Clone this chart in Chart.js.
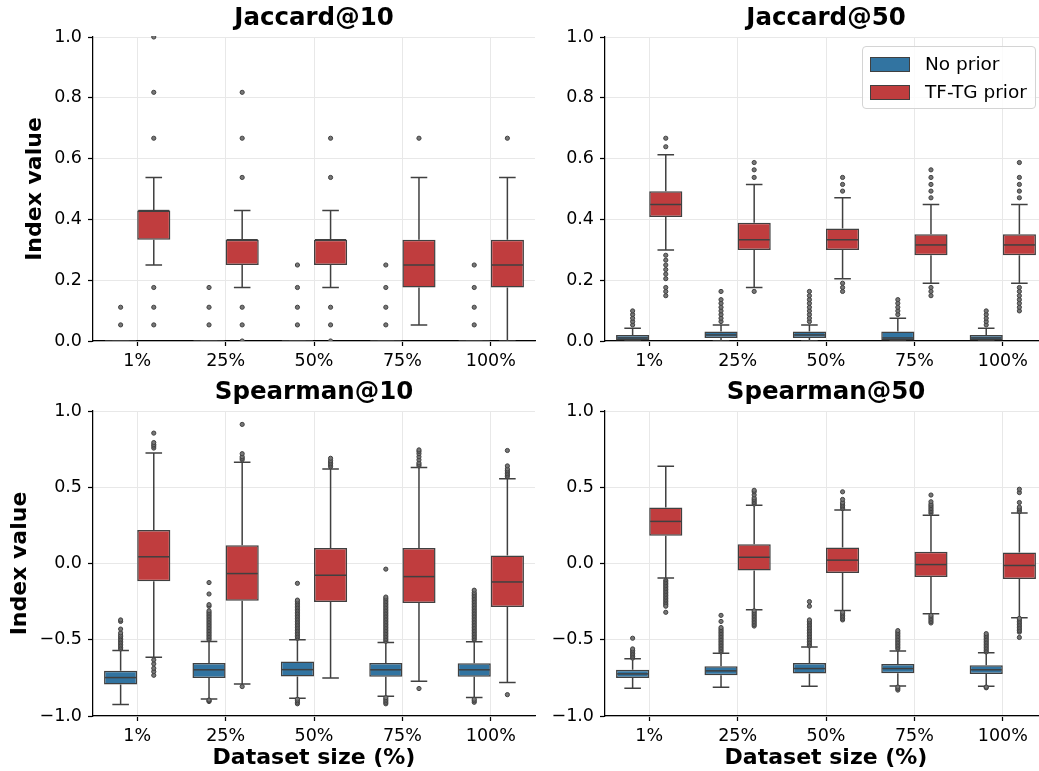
<!DOCTYPE html>
<html lang="en">

<head>
    <meta charset="UTF-8">
    <title>Jaccard / Spearman index by dataset size</title>
    <script src="https://cdn.jsdelivr.net/npm/chart.js"></script>
    <style>
        html, body {
            margin: 0;
            padding: 0;
            width: 1039px;
            height: 771px;
            overflow: hidden;
            background: #fff;
            font-family: "DejaVu Sans", sans-serif;
        }
        canvas {
            position: absolute;
        }
        #legend {
            position: absolute;
            left: 862px;
            top: 46px;
            width: 172px;
            height: 61px;
            border: 1px solid #d4d4d4;
            border-radius: 4px;
            background: rgba(255, 255, 255, 0.8);
            z-index: 5;
        }
        #legend .item {
            position: absolute;
            left: 7px;
            height: 16px;
            font-size: 18.5px;
            line-height: 16px;
            color: #000;
            white-space: nowrap;
        }
        #legend .patch {
            display: inline-block;
            width: 38px;
            height: 13px;
            border: 1px solid #404040;
            vertical-align: top;
            margin-right: 15px;
            margin-top: 1px;
        }
    </style>
</head>

<body>
    <canvas id="chartJ10" width="540" height="380" style="left:0;top:0"></canvas>
    <canvas id="chartJ50" width="530" height="380" style="left:520px;top:0"></canvas>
    <canvas id="chartS10" width="540" height="397" style="left:0;top:374px"></canvas>
    <canvas id="chartS50" width="530" height="397" style="left:520px;top:374px"></canvas>
    <div id="legend">
        <div class="item" style="top:9px"><span class="patch" style="background:#3274a1"></span>No prior</div>
        <div class="item" style="top:37px"><span class="patch" style="background:#c03d3e"></span>TF-TG prior</div>
    </div>
    <script>
        // x categories
        var categories = ['1%', '25%', '50%', '75%', '100%'];

        // box stats per category: [whisker low, q1, median, q3, whisker high]
        // Jaccard@10
        var j10NoPrior = [[0, 0, 0, 0, 0], [0, 0, 0, 0, 0], [0, 0, 0, 0, 0], [0, 0, 0, 0, 0], [0, 0, 0, 0, 0]];
        var j10NoPriorOut = [
            [0.053, 0.111],
            [0.053, 0.111, 0.176],
            [0.053, 0.111, 0.176, 0.25],
            [0.053, 0.111, 0.176, 0.25],
            [0.053, 0.111, 0.176, 0.25]
        ];
        var j10Prior = [[0.25, 0.333, 0.429, 0.429, 0.538], [0.176, 0.25, 0.333, 0.333, 0.429], [0.176, 0.25, 0.333, 0.333, 0.429], [0.053, 0.176, 0.25, 0.333, 0.538], [0, 0.176, 0.25, 0.333, 0.538]];
        var j10PriorOut = [
            [0.053, 0.111, 0.176, 0.667, 0.818, 1.0],
            [0, 0.053, 0.111, 0.538, 0.667, 0.818],
            [0, 0.053, 0.111, 0.538, 0.667],
            [0.667],
            [0.667]
        ];

        // Jaccard@50
        var j50NoPrior = [[0, 0, 0.01, 0.02, 0.042], [0, 0.01, 0.02, 0.031, 0.053], [0, 0.01, 0.02, 0.031, 0.053], [0, 0, 0.01, 0.031, 0.075], [0, 0, 0.01, 0.02, 0.042]];
        var j50NoPriorOut = [
            [0.053, 0.064, 0.075, 0.087, 0.099],
            [0.064, 0.075, 0.087, 0.099, 0.111, 0.124, 0.136, 0.163],
            [0.064, 0.075, 0.087, 0.099, 0.111, 0.124, 0.136, 0.149, 0.163],
            [0.087, 0.099, 0.111, 0.124, 0.136],
            [0.053, 0.064, 0.075, 0.087, 0.099]
        ];
        var j50Prior = [[0.299, 0.408, 0.449, 0.493, 0.613], [0.176, 0.299, 0.333, 0.389, 0.515], [0.205, 0.299, 0.333, 0.37, 0.471], [0.19, 0.282, 0.316, 0.351, 0.449], [0.19, 0.282, 0.316, 0.351, 0.449]];
        var j50PriorOut = [
            [0.149, 0.163, 0.176, 0.205, 0.22, 0.235, 0.25, 0.266, 0.282, 0.639, 0.667],
            [0.163, 0.538, 0.563, 0.587],
            [0.163, 0.176, 0.19, 0.493, 0.515, 0.538],
            [0.149, 0.163, 0.176, 0.471, 0.493, 0.515, 0.538, 0.563],
            [0.099, 0.111, 0.124, 0.136, 0.149, 0.163, 0.176, 0.471, 0.493, 0.515, 0.538, 0.587]
        ];

        // Spearman@10
        var s10NoPrior = [[-0.924, -0.794, -0.748, -0.704, -0.57], [-0.888, -0.75, -0.697, -0.652, -0.511], [-0.884, -0.741, -0.696, -0.643, -0.5], [-0.871, -0.743, -0.697, -0.652, -0.518], [-0.879, -0.743, -0.697, -0.654, -0.513]];
        var s10NoPriorOut = [
            [-0.56, -0.55, -0.54, -0.53, -0.52, -0.51, -0.5, -0.49, -0.48, -0.47, -0.455, -0.43, -0.38, -0.37],
            [-0.905, -0.9, -0.895, -0.5, -0.49, -0.48, -0.47, -0.46, -0.45, -0.44, -0.43, -0.42, -0.41, -0.4, -0.39, -0.38, -0.37, -0.36, -0.35, -0.34, -0.33, -0.32, -0.31, -0.28, -0.27, -0.2, -0.125],
            [-0.92, -0.91, -0.9, -0.89, -0.49, -0.48, -0.47, -0.46, -0.45, -0.44, -0.43, -0.42, -0.41, -0.4, -0.39, -0.38, -0.37, -0.36, -0.35, -0.34, -0.33, -0.32, -0.31, -0.3, -0.29, -0.28, -0.27, -0.26, -0.25, -0.24, -0.13],
            [-0.92, -0.91, -0.9, -0.89, -0.88, -0.51, -0.5, -0.49, -0.48, -0.47, -0.46, -0.45, -0.44, -0.43, -0.42, -0.41, -0.4, -0.39, -0.38, -0.37, -0.36, -0.35, -0.34, -0.33, -0.32, -0.31, -0.3, -0.29, -0.28, -0.27, -0.26, -0.25, -0.24, -0.23, -0.22, -0.037],
            [-0.91, -0.9, -0.89, -0.5, -0.49, -0.48, -0.47, -0.46, -0.45, -0.44, -0.43, -0.42, -0.41, -0.4, -0.39, -0.38, -0.37, -0.36, -0.35, -0.34, -0.33, -0.32, -0.31, -0.3, -0.29, -0.28, -0.27, -0.26, -0.25, -0.24, -0.23, -0.22, -0.21, -0.2, -0.19, -0.175]
        ];
        var s10Prior = [[-0.614, -0.116, 0.044, 0.219, 0.724], [-0.79, -0.244, -0.066, 0.12, 0.664], [-0.75, -0.252, -0.077, 0.101, 0.62], [-0.772, -0.259, -0.086, 0.101, 0.629], [-0.781, -0.285, -0.121, 0.052, 0.555]];
        var s10PriorOut = [
            [-0.733, -0.709, -0.687, -0.658, -0.632, 0.757, 0.77, 0.78, 0.793, 0.855],
            [-0.807, 0.68, 0.69, 0.7, 0.72, 0.912],
            [0.635, 0.645, 0.655, 0.665, 0.675, 0.69],
            [-0.82, 0.64, 0.65, 0.66, 0.68, 0.7, 0.72, 0.735, 0.745],
            [-0.86, 0.57, 0.58, 0.59, 0.6, 0.61, 0.62, 0.64, 0.741]
        ];

        // Spearman@50
        var s50NoPrior = [[-0.818, -0.75, -0.724, -0.697, -0.625], [-0.811, -0.733, -0.704, -0.673, -0.588], [-0.805, -0.722, -0.689, -0.652, -0.548], [-0.803, -0.72, -0.689, -0.659, -0.573], [-0.805, -0.724, -0.697, -0.667, -0.586]];
        var s50NoPriorOut = [
            [-0.62, -0.61, -0.6, -0.59, -0.58, -0.57, -0.56, -0.49],
            [-0.58, -0.57, -0.56, -0.55, -0.54, -0.53, -0.52, -0.51, -0.5, -0.49, -0.48, -0.47, -0.46, -0.45, -0.44, -0.43, -0.42, -0.38, -0.34],
            [-0.54, -0.53, -0.52, -0.51, -0.5, -0.49, -0.48, -0.47, -0.46, -0.45, -0.44, -0.43, -0.42, -0.41, -0.4, -0.39, -0.38, -0.37, -0.28, -0.25],
            [-0.83, -0.82, -0.81, -0.56, -0.55, -0.54, -0.53, -0.52, -0.51, -0.5, -0.49, -0.48, -0.47, -0.46, -0.45, -0.44],
            [-0.815, -0.81, -0.58, -0.57, -0.56, -0.55, -0.54, -0.53, -0.52, -0.51, -0.5, -0.49, -0.48, -0.47, -0.46]
        ];
        var s50Prior = [[-0.095, 0.182, 0.276, 0.368, 0.638], [-0.303, -0.046, 0.041, 0.127, 0.382], [-0.309, -0.062, 0.022, 0.105, 0.351], [-0.329, -0.088, -0.007, 0.077, 0.316], [-0.355, -0.101, -0.013, 0.072, 0.331]];
        var s50PriorOut = [
            [-0.11, -0.12, -0.13, -0.14, -0.15, -0.16, -0.17, -0.18, -0.19, -0.2, -0.21, -0.22, -0.23, -0.24, -0.25, -0.26, -0.27, -0.28, -0.32],
            [-0.41, -0.4, -0.39, -0.38, -0.37, -0.36, -0.35, -0.34, -0.33, -0.32, -0.31, 0.39, 0.4, 0.41, 0.42, 0.43, 0.45, 0.47, 0.48],
            [-0.37, -0.36, -0.35, -0.34, -0.33, -0.32, 0.36, 0.37, 0.38, 0.39, 0.4, 0.42, 0.47],
            [-0.39, -0.38, -0.37, -0.36, -0.35, -0.34, 0.33, 0.34, 0.35, 0.36, 0.37, 0.38, 0.39, 0.405, 0.449],
            [-0.485, -0.45, -0.44, -0.43, -0.42, -0.41, -0.4, -0.39, -0.38, -0.37, -0.36, 0.34, 0.35, 0.36, 0.37, 0.4, 0.465, 0.487]
        ];

        var blue = '#3274a1';
        var red = '#c03d3e';
        var edge = '#404040';
        var gridColor = '#e8e8e8';

        Chart.defaults.font.family = '"DejaVu Sans", sans-serif';
        Chart.defaults.color = '#000';

        // whiskers, caps, medians and outliers drawn on top of the floating bars
        var boxExtras = {
            id: 'boxExtras',
            afterDatasetsDraw: function (chart) {
                var ctx = chart.ctx;
                var y = chart.scales.y;
                var area = chart.chartArea;
                ctx.save();
                ctx.beginPath();
                ctx.rect(area.left, area.top - 1, area.right - area.left, area.bottom - area.top + 1);
                ctx.clip();
                chart.data.datasets.forEach(function (ds, d) {
                    var meta = chart.getDatasetMeta(d);
                    meta.data.forEach(function (bar, i) {
                        var s = ds.stats[i];
                        var cx = bar.x;
                        var w = bar.width;
                        ctx.strokeStyle = edge;
                        ctx.lineWidth = 1.5;
                        ctx.beginPath();
                        ctx.moveTo(cx, y.getPixelForValue(s[3]));
                        ctx.lineTo(cx, y.getPixelForValue(s[4]));
                        ctx.moveTo(cx, y.getPixelForValue(s[1]));
                        ctx.lineTo(cx, y.getPixelForValue(s[0]));
                        ctx.moveTo(cx - w / 4, y.getPixelForValue(s[4]));
                        ctx.lineTo(cx + w / 4, y.getPixelForValue(s[4]));
                        ctx.moveTo(cx - w / 4, y.getPixelForValue(s[0]));
                        ctx.lineTo(cx + w / 4, y.getPixelForValue(s[0]));
                        ctx.stroke();
                        // median
                        ctx.beginPath();
                        ctx.moveTo(cx - w / 2 + 1, y.getPixelForValue(s[2]));
                        ctx.lineTo(cx + w / 2 - 1, y.getPixelForValue(s[2]));
                        ctx.stroke();
                        // outliers
                        ctx.fillStyle = '#777';
                        ctx.lineWidth = 1;
                        ds.outliers[i].forEach(function (v) {
                            ctx.beginPath();
                            ctx.arc(cx, y.getPixelForValue(v), 2.1, 0, Math.PI * 2);
                            ctx.fill();
                            ctx.stroke();
                        });
                    });
                });
                ctx.restore();
            }
        };

        function tickLabel(v) {
            return Number(v).toFixed(1).replace('-', '\u2212');
        }

        function makePanel(id, title, noPrior, noPriorOut, prior, priorOut, yMin, yMax, step, isLeft, isBottom) {
            new Chart(document.getElementById(id), {
                type: 'bar',
                data: {
                    labels: categories,
                    datasets: [{
                        label: 'No prior',
                        data: noPrior.map(function (s) { return [s[1], s[3]]; }),
                        stats: noPrior,
                        outliers: noPriorOut,
                        backgroundColor: blue,
                        borderColor: edge,
                        borderWidth: 1.5,
                        borderSkipped: false,
                        categoryPercentage: 0.75,
                        barPercentage: 1.0
                    }, {
                        label: 'TF-TG prior',
                        data: prior.map(function (s) { return [s[1], s[3]]; }),
                        stats: prior,
                        outliers: priorOut,
                        backgroundColor: red,
                        borderColor: edge,
                        borderWidth: 1.5,
                        borderSkipped: false,
                        categoryPercentage: 0.75,
                        barPercentage: 1.0
                    }]
                },
                options: {
                    responsive: false,
                    animation: false,
                    layout: { padding: { left: 0, right: isLeft ? 5 : 3, top: 0, bottom: 0 } },
                    plugins: {
                        legend: { display: false },
                        tooltip: { enabled: false },
                        title: {
                            display: true,
                            fullSize: false,
                            text: title,
                            color: '#000',
                            font: { size: 24.5, weight: 'bold' },
                            padding: { top: 3.8, bottom: 3.8 }
                        }
                    },
                    scales: {
                        x: {
                            afterFit: function (scale) { scale.height = isBottom ? 55 : 39; },
                            grid: { offset: false, color: gridColor, tickColor: '#000', tickLength: 5, tickWidth: 1.25 },
                            border: { color: '#000', width: 1.25 },
                            ticks: { font: { size: 17.5 }, padding: 5, color: '#000' },
                            title: {
                                display: isBottom,
                                text: 'Dataset size (%)',
                                color: '#000',
                                font: { size: 22, weight: 'bold' },
                                padding: { top: 0, bottom: 0 }
                            }
                        },
                        y: {
                            min: yMin,
                            max: yMax,
                            afterFit: function (scale) { scale.width = isLeft ? 93 : 85; },
                            grid: { color: gridColor, tickColor: '#000', tickLength: 5, tickWidth: 1.25 },
                            border: { color: '#000', width: 1.25 },
                            ticks: { stepSize: step, font: { size: 17.5 }, padding: 6, color: '#000', callback: tickLabel },
                            title: {
                                display: isLeft,
                                text: 'Index value',
                                color: '#000',
                                font: { size: 22, weight: 'bold' },
                                padding: { top: isBottom ? 6.8 : 21.8, bottom: 0 }
                            }
                        }
                    }
                },
                plugins: [boxExtras]
            });
        }

        makePanel('chartJ10', 'Jaccard@10', j10NoPrior, j10NoPriorOut, j10Prior, j10PriorOut, 0, 1, 0.2, true, false);
        makePanel('chartJ50', 'Jaccard@50', j50NoPrior, j50NoPriorOut, j50Prior, j50PriorOut, 0, 1, 0.2, false, false);
        makePanel('chartS10', 'Spearman@10', s10NoPrior, s10NoPriorOut, s10Prior, s10PriorOut, -1, 1, 0.5, true, true);
        makePanel('chartS50', 'Spearman@50', s50NoPrior, s50NoPriorOut, s50Prior, s50PriorOut, -1, 1, 0.5, false, true);
    </script>
</body>

</html>
